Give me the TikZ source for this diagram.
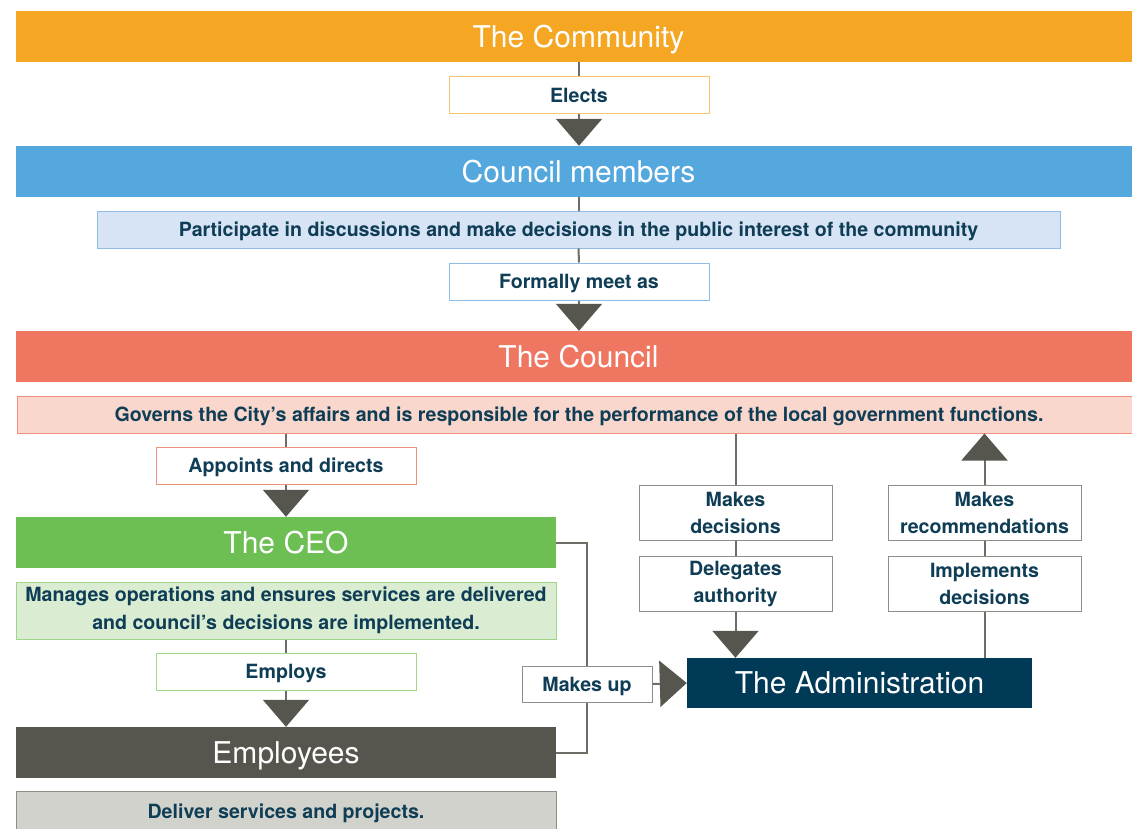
\documentclass[tikz,border=0pt]{standalone}
\usepackage{fontspec}
\setmainfont{TeX Gyre Heros}
\usetikzlibrary{arrows.meta}
\definecolor{corange}{HTML}{F5A623}
\definecolor{cblue}{HTML}{55A8DE}
\definecolor{cred}{HTML}{EF7661}
\definecolor{cgreen}{HTML}{6DBE53}
\definecolor{cgray}{HTML}{57564E}
\definecolor{cnavy}{HTML}{003A57}
\definecolor{ctext}{HTML}{0E3D55}
\definecolor{cline}{HTML}{6D6C65}
\definecolor{fblue}{HTML}{D6E4F5}
\definecolor{bblue}{HTML}{8DBCE6}
\definecolor{fred}{HTML}{FAD7CC}
\definecolor{bred}{HTML}{F0917E}
\definecolor{fgreen}{HTML}{DAEDD2}
\definecolor{bgreen}{HTML}{9FD68A}
\definecolor{fgray}{HTML}{D1D2CC}
\definecolor{bgray}{HTML}{8E8D86}
\definecolor{borange}{HTML}{F7C56B}
\begin{document}
\begin{tikzpicture}[x=1pt,y=-1pt,
  bar/.style={minimum height=51pt, inner sep=0pt, text=white, font=\fontsize{30}{32}\selectfont,
     text height=21.5pt, text depth=0pt},
  lbl/.style={draw, fill=white, minimum height=37pt, inner sep=0pt, text=ctext, line width=1pt,
     font=\bfseries\fontsize{19.6}{27}\selectfont, text height=14pt, text depth=0pt},
  lbltwo/.style={draw, fill=white, minimum height=55pt, inner sep=0pt, text=ctext, line width=1pt,
     font=\bfseries\fontsize{19.6}{27}\selectfont, align=center},
  conn/.style={draw=cline, line width=2pt},
  arr/.style={conn, -{Triangle[width=46pt,length=27pt,fill=cgray,color=cgray]}}
]
\useasboundingbox (0,0) rectangle (1132,828);
\clip (0,0) rectangle (1132,828);
% bars
\node[bar, fill=corange, minimum width=1125pt] (comm) at (578.5,36.5) {The Community};
\node[bar, fill=cblue, minimum width=1125pt] (cm) at (578.5,171.5) {Council members};
\node[bar, fill=cred, minimum width=1125pt] (council) at (578.5,356.5) {The Council};
\node[bar, fill=cgreen, minimum width=540pt] (ceo) at (286,542.5) {The CEO};
\node[bar, fill=cgray, minimum width=540pt] (emp) at (286,752.5) {Employees};
\node[bar, fill=cnavy, minimum width=345pt, minimum height=50pt] (adm) at (859.5,683) {The Administration};
% description boxes
\node[lbl, draw=bblue, fill=fblue, minimum width=963pt] (part) at (578.5,229.5) {Participate in discussions and make decisions in the public interest of the community};
\node[lbl, draw=bred, fill=fred, minimum width=1124pt] (gov) at (579,414.5) {Governs the City’s affairs and is responsible for the performance of the local government functions.};
\node[lbltwo, draw=bgreen, fill=fgreen, minimum width=540pt, minimum height=57pt, font=\bfseries\fontsize{19.6}{28}\selectfont] (man) at (286,610.5) {Manages operations and ensures services are delivered\\and council’s decisions are implemented.};
\node[lbl, draw=bgray, fill=fgray, minimum width=540pt, minimum height=40pt] (del) at (286,811) {Deliver services and projects.};
% labels
\node[lbl, draw=borange, minimum width=260pt] (elects) at (579,95) {Elects};
\node[lbl, draw=bblue, minimum width=260pt] (meet) at (579,281.5) {Formally meet as};
\node[lbl, draw=bred, minimum width=260pt] (appt) at (286,465.5) {Appoints and directs};
\node[lbl, draw=bgreen, minimum width=260pt] (empl) at (286,671.5) {Employs};
\node[lbl, draw=bgray, minimum width=130pt, minimum height=36pt] (mu) at (587,684) {Makes up};
\node[lbltwo, draw=bgray, minimum width=193pt] (md) at (735.5,512.5) {Makes\\decisions};
\node[lbltwo, draw=bgray, minimum width=193pt] (da) at (735.5,583.5) {Delegates\\authority};
\node[lbltwo, draw=bgray, minimum width=193pt] (mr) at (984.5,512.5) {Makes\\recommendations};
\node[lbltwo, draw=bgray, minimum width=193pt] (id) at (984.5,583.5) {Implements\\decisions};
% connectors
\path[conn] (elects.north |- comm.south) -- (elects.north);
\path[arr] (elects.south) -- (elects.south |- cm.north);
\path[conn] (part.north |- cm.south) -- (part.north);
\path[conn] (part.south) -- (meet.north);
\path[arr] (meet.south) -- (meet.south |- council.north);
\path[conn] (appt.north |- gov.south) -- (appt.north);
\path[arr] (appt.south) -- (appt.south |- ceo.north);
\path[conn] (empl.north |- man.south) -- (empl.north);
\path[arr] (empl.south) -- (empl.south |- emp.north);
\path[conn] (md.north |- gov.south) -- (md.north);
\path[conn] (md.south) -- (da.north);
\path[arr] (da.south) -- (da.south |- adm.north);
\path[conn] (id.south |- adm.north) -- (id.south);
\path[conn] (id.north) -- (mr.south);
\path[arr] (mr.north) -- (mr.north |- gov.south);
\path[conn] (ceo.east) -| (mu.north);
\path[conn] (mu.south) |- (emp.east);
\path[arr] (mu.east) -- (adm.west);
\end{tikzpicture}
\end{document}
